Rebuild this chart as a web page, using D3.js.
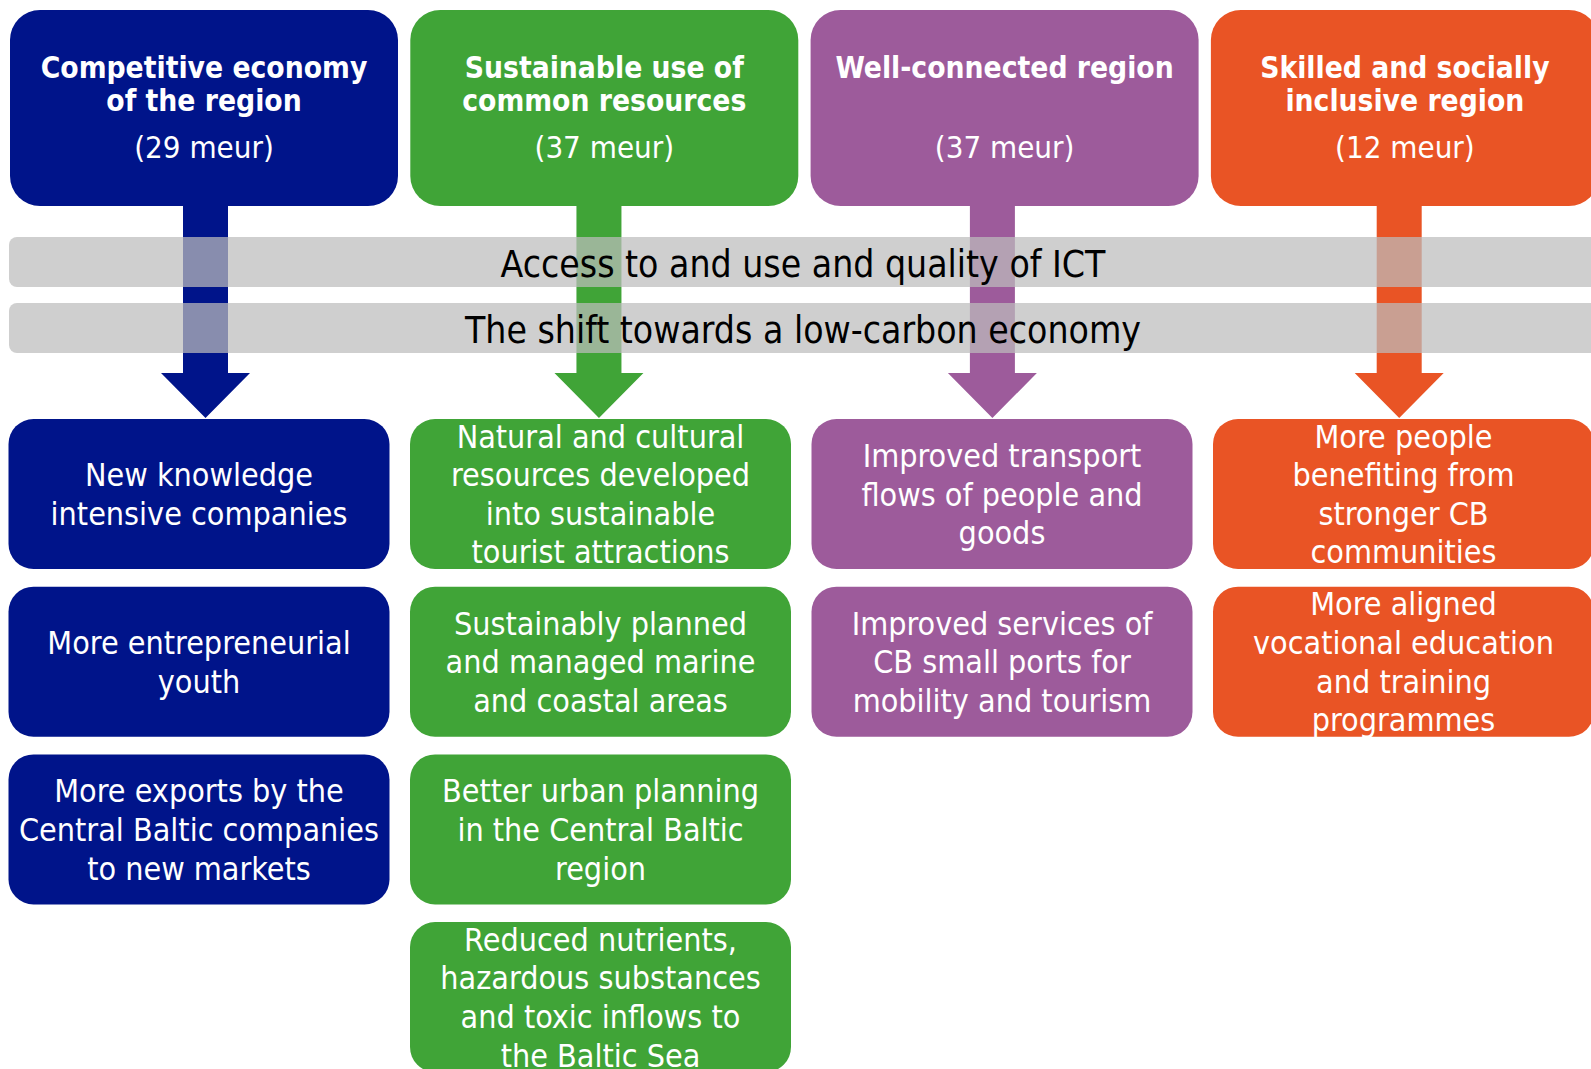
<!DOCTYPE html>
<html lang="en">
  <head>
    <meta charset="UTF-8" />
    <title>Central Baltic programme priorities</title>
    <script src="https://cdnjs.cloudflare.com/ajax/libs/d3/7.9.0/d3.min.js"></script>
    <style>
      html,
      body {
        margin: 0;
        padding: 0;
        background: #ffffff;
        overflow: hidden;
      }
      svg {
        display: block;
        font-family: "DejaVu Sans Condensed", "DejaVu Sans", sans-serif;
        font-stretch: condensed;
      }
      .head text {
        fill: #ffffff;
        font-weight: bold;
        font-size: 29.7px;
      }
      .head text.budget {
        font-weight: normal;
        font-size: 31px;
      }
      .outcome text {
        fill: #ffffff;
        font-size: 32px;
      }
      .band text {
        fill: #000000;
        font-size: 37px;
      }
    </style>
  </head>
  <body>
    <svg id="svg" width="1591" height="1069"></svg>

    <script>
      /* --------------------- Data --------------------- */
      const priorities = [
        "Competitive economy",
        "Sustainable use",
        "Well-connected",
        "Skilled and inclusive",
      ];

      // title lines as wrapped in the picture
      const priorityTitles = [
        ["Competitive economy", "of the region"],
        ["Sustainable use of", "common resources"],
        ["Well-connected region"],
        ["Skilled and socially", "inclusive region"],
      ];

      const budgetsMeur = [29, 37, 37, 12];

      const crossCutting = [
        "Access to and use and quality of ICT",
        "The shift towards a low-carbon economy",
      ];

      const outcomes = [
        [
          ["New knowledge", "intensive companies"],
          ["More entrepreneurial", "youth"],
          ["More exports by the", "Central Baltic companies", "to new markets"],
        ],
        [
          ["Natural and cultural", "resources developed", "into sustainable", "tourist attractions"],
          ["Sustainably planned", "and managed marine", "and coastal areas"],
          ["Better urban planning", "in the Central Baltic", "region"],
          ["Reduced nutrients,", "hazardous substances", "and toxic inflows to", "the Baltic Sea"],
        ],
        [
          ["Improved transport", "flows of people and", "goods"],
          ["Improved services of", "CB small ports for", "mobility and tourism"],
        ],
        [
          ["More people", "benefiting from", "stronger CB", "communities"],
          ["More aligned", "vocational education", "and training", "programmes"],
        ],
      ];

      const colors = ["#00148a", "#40a437", "#9d5b9b", "#e95425"];

      /* --------------------- Scales --------------------- */
      const svg = d3.select("#svg");

      const color = d3.scaleOrdinal().domain(priorities).range(colors);

      // band scale whose first band starts at x0, with given step and width
      const band = (domain, x0, step, width) =>
        d3
          .scaleBand()
          .domain(domain)
          .range([x0, x0 + (domain.length - 1) * step + width])
          .paddingInner((step - width) / step)
          .paddingOuter(0);

      const xHead = band(priorities, 10, 400.3, 388); // header columns
      const xBox = band(priorities, 8.5, 401.5, 381); // outcome columns
      const yRow = band(d3.range(4), 419, 167.7, 150); // outcome rows

      // arrow centres (slightly irregular spacing in the original)
      const arrowScale = d3.scaleLinear().domain([0, 2, 3]).range([205.5, 992.4, 1399.2]);
      const xArrow = (d) => arrowScale(priorities.indexOf(d));

      const headTop = 10,
        headBottom = 206;
      const bandY = d3.scalePoint().domain(crossCutting).range([237, 303]);
      const bandH = 50;

      /* --------------------- Arrows --------------------- */
      const shaftW = 45,
        headW = 89,
        headStart = 373,
        tipY = 418;

      svg
        .append("g")
        .selectAll("path.arrow")
        .data(priorities)
        .join("path")
        .attr("class", "arrow")
        .attr("fill", (d) => color(d))
        .attr("d", (d) => {
          const cx = xArrow(d);
          const p = d3.path();
          p.moveTo(cx - shaftW / 2, headBottom - 1);
          p.lineTo(cx + shaftW / 2, headBottom - 1);
          p.lineTo(cx + shaftW / 2, headStart);
          p.lineTo(cx + headW / 2, headStart);
          p.lineTo(cx, tipY);
          p.lineTo(cx - headW / 2, headStart);
          p.lineTo(cx - shaftW / 2, headStart);
          p.closePath();
          return p.toString();
        });

      /* --------------------- Header boxes --------------------- */
      const head = svg
        .append("g")
        .selectAll("g.head")
        .data(priorities)
        .join("g")
        .attr("class", "head");

      head
        .append("rect")
        .attr("x", (d) => xHead(d))
        .attr("y", headTop)
        .attr("width", xHead.bandwidth())
        .attr("height", headBottom - headTop)
        .attr("rx", 30)
        .attr("fill", (d) => color(d));

      head.each(function (d, i) {
        const g = d3.select(this);
        const cx = xHead(d) + xHead.bandwidth() / 2;
        g.selectAll("text.title")
          .data(priorityTitles[i])
          .join("text")
          .attr("class", "title")
          .attr("x", cx)
          .attr("y", (t, j) => 67 + j * 33.5)
          .attr("dy", "0.36em")
          .attr("text-anchor", "middle")
          .text((t) => t);
        g.append("text")
          .attr("class", "budget")
          .attr("x", cx)
          .attr("y", 147)
          .attr("dy", "0.36em")
          .attr("text-anchor", "middle")
          .text(`(${budgetsMeur[i]} meur)`);
      });

      /* --------------------- Cross-cutting bands --------------------- */
      const bandG = svg
        .append("g")
        .selectAll("g.band")
        .data(crossCutting)
        .join("g")
        .attr("class", "band");

      bandG
        .append("rect")
        .attr("x", 9)
        .attr("y", (d) => bandY(d))
        .attr("width", 1640)
        .attr("height", bandH)
        .attr("rx", 8)
        .attr("fill", "#bdbdbd")
        .attr("fill-opacity", 0.72);

      bandG
        .append("text")
        .attr("x", 803)
        .attr("y", (d) => bandY(d) + bandH / 2 + 2)
        .attr("dy", "0.36em")
        .attr("text-anchor", "middle")
        .text((d) => d);

      /* --------------------- Outcome boxes --------------------- */
      const lineH = 38.6;
      const boxes = priorities.flatMap((p, i) =>
        outcomes[i].map((lines, r) => ({ p, r, lines }))
      );

      const box = svg
        .append("g")
        .selectAll("g.outcome")
        .data(boxes)
        .join("g")
        .attr("class", "outcome");

      box
        .append("rect")
        .attr("x", (d) => xBox(d.p))
        .attr("y", (d) => yRow(d.r))
        .attr("width", xBox.bandwidth())
        .attr("height", yRow.bandwidth())
        .attr("rx", 25)
        .attr("fill", (d) => color(d.p));

      box.each(function (d) {
        const cx = xBox(d.p) + xBox.bandwidth() / 2;
        const cy = yRow(d.r) + yRow.bandwidth() / 2;
        const n = d.lines.length;
        d3.select(this)
          .selectAll("text")
          .data(d.lines)
          .join("text")
          .attr("x", cx)
          .attr("y", (t, j) => cy + (j - (n - 1) / 2) * lineH)
          .attr("dy", "0.36em")
          .attr("text-anchor", "middle")
          .text((t) => t);
      });
    </script>
  </body>
</html>
